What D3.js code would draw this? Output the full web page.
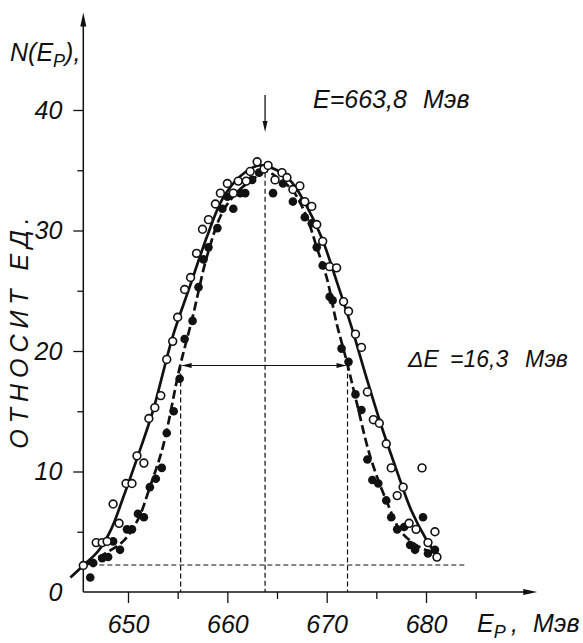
<!DOCTYPE html>
<html><head><meta charset="utf-8">
<script src="https://cdn.jsdelivr.net/npm/d3@7"></script>
<style>
body{margin:0;background:#fff;}
svg{display:block;}
text{font-family:"Liberation Sans",Arial,sans-serif;font-style:italic;fill:#111;}
</style>
</head><body>
<svg id="c" width="583" height="643"></svg>
<script>
// ---- data ----
const openE = [645.5,646.8,647.4,647.9,648.5,649.1,649.8,650.4,650.9,651.6,652.1,652.7,653.3,653.9,654.5,655.0,655.7,656.3,656.9,657.5,658.1,658.8,659.3,660.0,660.6,661.1,661.9,662.3,663.0,663.7,664.1,664.8,665.5,666.0,666.6,667.3,667.8,668.5,669.0,669.6,670.3,671.0,671.7,672.2,672.9,673.5,674.1,674.7,675.3,676.0,676.5,677.1,677.7,678.3,679.0,679.6,680.2,680.9,681.1];
const openV = [2.2,4.1,4.1,4.2,7.3,5.7,9.0,9.0,11.3,10.7,14.4,15.3,16.3,19.3,20.8,22.8,25.1,26.1,28.1,30.1,30.9,32.2,33.1,33.9,33.1,34.1,34.1,34.9,35.7,35.1,35.4,34.2,34.8,34.4,33.4,33.7,32.4,32.0,30.5,29.1,27.0,26.9,24.1,23.3,21.4,20.3,16.6,14.3,14.0,12.3,10.3,8.0,8.7,5.7,5.2,10.3,4.1,5.0,2.9];
const filledE = [646.2,646.5,647.4,648.0,648.5,649.2,649.9,650.4,651.0,651.6,652.2,652.8,653.4,653.9,654.6,655.2,655.7,656.5,657.1,657.6,658.1,659.0,659.5,660.0,660.6,661.3,661.8,662.5,663.2,664.6,665.6,666.6,667.6,667.8,668.5,669.0,669.6,670.3,670.6,671.5,672.2,672.9,673.5,674.1,674.6,675.2,676.0,676.5,677.1,677.8,678.4,678.9,679.7,680.2,680.9];
const filledV = [1.2,2.4,2.8,2.9,4.2,3.5,5.2,5.2,6.5,6.2,8.7,9.4,10.3,13.2,15.0,17.7,21.0,22.5,25.3,27.6,28.6,30.2,31.8,32.8,31.8,33.1,33.1,34.2,34.8,33.1,33.9,32.4,32.4,31.1,30.6,28.6,27.1,24.5,24.2,20.2,19.1,16.4,15.1,11.0,9.3,9.0,7.6,6.2,5.2,5.4,3.9,3.5,6.2,3.2,3.5];
const solidE = [644.2,645.5,647.0,648.3,649.5,651.0,652.5,654.5,656.2,658.0,659.5,661.3,663.2,665.0,666.5,668.0,669.5,671.0,672.5,674.0,675.5,677.0,678.5,680.0,681.2];
const solidV = [1.2,2.2,3.4,5.2,7.8,11.3,15.0,21.2,25.3,29.6,32.6,34.5,35.4,35.0,34.0,32.0,29.4,25.8,22.0,17.8,13.8,10.2,6.8,4.4,2.9];
const dashedE = [645.9,647.5,649.5,651.0,652.2,653.5,655.2,656.5,658.0,659.5,661.0,662.5,663.8,665.2,666.6,668.0,669.0,670.0,671.0,672.0,673.0,674.4,676.1,677.5,679.4,681.1];
const dashedV = [2.3,3.1,4.2,6.0,8.7,12.0,18.6,22.8,28.0,31.5,33.2,34.2,34.9,34.3,33.3,31.1,28.6,26.1,22.3,19.2,15.8,11.2,7.4,5.0,3.7,3.2];
const xMajorTicks = [650,660,670,680];
const xMinorTicks = [655,665,675,685];
const yMajorTicks = [0,10,20,30,40];
const yMinorTicks = [5,15,25,35];
const peakE = 663.8, peakTopV = 34.8;
const halfLeftE = 655.3, halfRightE = 672.1, halfV = 18.8;
const baseV = 2.24, baseEndE = 684.0;
const axisStartE = 645.5, axisEndE = 691.2, axisTopV = 48.1;

// ---- scales ----
const svg = d3.select("#c");
const x = d3.scaleLinear().domain([650,680]).range([128,426]);
const y = d3.scaleLinear().domain([0,40]).range([592,110]);
const ink = "#111";

// ---- axes ----
const x0 = x(axisStartE), y0 = y(0);
svg.append("line").attr("x1",x0).attr("x2",x(axisEndE)-6).attr("y1",y0).attr("y2",y0)
  .attr("stroke",ink).attr("stroke-width",1.3);
svg.append("path").attr("d",`M${x(axisEndE)},${y0} L${x(axisEndE)-14},${y0-3} L${x(axisEndE)-14},${y0+3}Z`).attr("fill",ink);
svg.append("line").attr("x1",x0).attr("x2",x0).attr("y1",y0).attr("y2",y(axisTopV)+8)
  .attr("stroke",ink).attr("stroke-width",1.5);
svg.append("path").attr("d",`M${x0},${y(axisTopV)} L${x0-3},${y(axisTopV)+14} L${x0+3},${y(axisTopV)+14}Z`).attr("fill",ink);

function styleAxis(g, fs){
  g.select(".domain").remove();
  g.selectAll("line").attr("stroke",ink).attr("stroke-width",1.3);
  g.selectAll("text").attr("font-family",null).style("font-family",'"Liberation Sans",Arial,sans-serif')
    .style("font-style","italic").style("font-size",fs+"px").attr("fill",ink);
}
const gxM = svg.append("g").attr("transform",`translate(0,${y0})`)
  .call(d3.axisBottom(x).tickValues(xMajorTicks).tickSize(11).tickPadding(12).tickFormat(d3.format("d")));
styleAxis(gxM,25);
const gxm = svg.append("g").attr("transform",`translate(0,${y0})`)
  .call(d3.axisBottom(x).tickValues(xMinorTicks).tickSize(7).tickFormat(""));
styleAxis(gxm,25);
const gyM = svg.append("g").attr("transform",`translate(${x0},0)`)
  .call(d3.axisLeft(y).tickValues(yMajorTicks).tickSize(10).tickPadding(11).tickFormat(d3.format("d")));
styleAxis(gyM,25);
gyM.selectAll(".tick").filter(d=>d===0).select("line").remove();
const gym = svg.append("g").attr("transform",`translate(${x0},0)`)
  .call(d3.axisLeft(y).tickValues(yMinorTicks).tickSize(6).tickFormat(""));
styleAxis(gym,25);

// ---- reference dashed lines ----
const thin = {stroke:ink,"stroke-width":1.2,"stroke-dasharray":"5,3",fill:"none"};
function dline(x1,y1,x2,y2){
  const l = svg.append("line").attr("x1",x1).attr("y1",y1).attr("x2",x2).attr("y2",y2);
  for (const k in thin) l.attr(k,thin[k]);
}
dline(x0,y(baseV),x(baseEndE),y(baseV));
dline(x(peakE),y(peakTopV),x(peakE),y0);
dline(x(halfLeftE),y(halfV),x(halfLeftE),y0);
dline(x(halfRightE),y(halfV),x(halfRightE),y0);
// width arrow
svg.append("line").attr("x1",x(halfLeftE)+2).attr("x2",x(halfRightE)-2).attr("y1",y(halfV)).attr("y2",y(halfV))
  .attr("stroke",ink).attr("stroke-width",1.1);
svg.append("path").attr("d",`M${x(halfLeftE)+1},${y(halfV)} l10,-2.5 l0,5Z`).attr("fill",ink);
svg.append("path").attr("d",`M${x(halfRightE)-1},${y(halfV)} l-10,-2.5 l0,5Z`).attr("fill",ink);
// peak arrow
svg.append("line").attr("x1",x(peakE)).attr("x2",x(peakE)).attr("y1",95).attr("y2",124)
  .attr("stroke",ink).attr("stroke-width",1.3);
svg.append("path").attr("d",`M${x(peakE)},${132} l-2.5,-11 l5,0Z`).attr("fill",ink);

// ---- curves ----
const line = d3.line().x(d=>x(d[0])).y(d=>y(d[1])).curve(d3.curveCatmullRom.alpha(0.5));
svg.append("path").datum(d3.zip(solidE,solidV)).attr("d",line)
  .attr("fill","none").attr("stroke",ink).attr("stroke-width",2.7);
svg.append("path").datum(d3.zip(dashedE,dashedV)).attr("d",line)
  .attr("fill","none").attr("stroke",ink).attr("stroke-width",2.7).attr("stroke-dasharray","9,4");

// ---- points ----
svg.append("g").selectAll("circle").data(d3.zip(filledE,filledV)).join("circle")
  .attr("cx",d=>x(d[0])).attr("cy",d=>y(d[1])).attr("r",4.3).attr("fill",ink);
svg.append("g").selectAll("circle").data(d3.zip(openE,openV)).join("circle")
  .attr("cx",d=>x(d[0])).attr("cy",d=>y(d[1])).attr("r",3.9)
  .attr("fill","#fff").attr("stroke",ink).attr("stroke-width",1.6);

// ---- texts ----
const t1 = svg.append("text").attr("x",10).attr("y",61).style("font-size","25px");
t1.append("tspan").text("N(E");
t1.append("tspan").text("P").style("font-size","18px").attr("dy",6);
t1.append("tspan").text("),").attr("dy",-6);

svg.append("text").attr("transform","translate(28,330) rotate(-90)").attr("text-anchor","middle")
  .style("font-size","25px").style("letter-spacing","6px").text("ОТНОСИТ ЕД.");

const t2 = svg.append("text").attr("x",313).attr("y",108).style("font-size","25px");
t2.append("tspan").text("E=663,8");
t2.append("tspan").attr("x",423).text("Мэв");

const t3 = svg.append("text").attr("x",408).attr("y",367).style("font-size","23px");
t3.append("tspan").text("ΔE");
t3.append("tspan").attr("x",450).text("=16,3");
t3.append("tspan").attr("x",525).text("Мэв");

const t4 = svg.append("text").attr("x",477).attr("y",632).style("font-size","25px");
t4.append("tspan").text("E");
t4.append("tspan").text("P").style("font-size","18px").attr("dy",6);
t4.append("tspan").text(",").attr("dy",-6).attr("x",511);
t4.append("tspan").text("Мэв").attr("x",533);
</script>
</body></html>
